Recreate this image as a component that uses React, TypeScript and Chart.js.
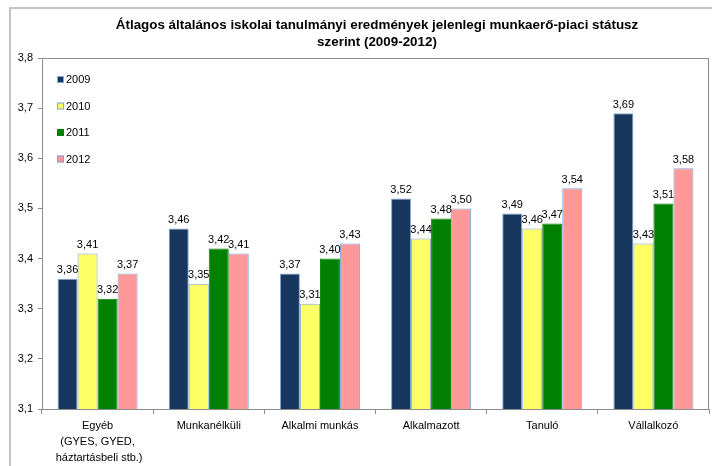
import React, { useEffect, useRef } from "react";
import { Chart, registerables } from "chart.js";

Chart.register(...registerables);

const categories: (string | string[])[] = [
  ["Egyéb", "(GYES, GYED,", " háztartásbeli stb.)"],
  "Munkanélküli",
  "Alkalmi munkás",
  "Alkalmazott",
  "Tanuló",
  "Vállalkozó",
];
const seriesNames = ["2009", "2010", "2011", "2012"];
const values2009 = [3.36, 3.46, 3.37, 3.52, 3.49, 3.69];
const values2010 = [3.41, 3.35, 3.31, 3.44, 3.46, 3.43];
const values2011 = [3.32, 3.42, 3.4, 3.48, 3.47, 3.51];
const values2012 = [3.37, 3.41, 3.43, 3.5, 3.54, 3.58];
const titleLines = [
  "Átlagos általános iskolai tanulmányi eredmények jelenlegi munkaerő-piaci státusz",
  "szerint (2009-2012)",
];
const yMin = 3.1;
const yMax = 3.8;
const yStep = 0.1;

const FONT = "'Liberation Sans', Arial, sans-serif";
const fillColors = ["#17375E", "#FFFF66", "#008000", "#FF9999"];
const edgeColors = ["#7FA7D9", "#7FA7D9", "#008000", "#7FA7D9"];

const fmt = (v: number, d: number) => v.toFixed(d).replace(".", ",");

const decorPlugin = {
  id: "decor",
  beforeDraw(chart: any) {
    const ctx = chart.ctx;
    ctx.save();
    ctx.fillStyle = "#ffffff";
    ctx.fillRect(0, 0, chart.width, chart.height);
    // outer frame
    ctx.strokeStyle = "#C4C4C4";
    ctx.lineWidth = 2;
    ctx.strokeRect(10, 8, chart.width + 20, chart.height + 20);
    // title
    ctx.fillStyle = "#000";
    ctx.font = `bold 13.4px ${FONT}`;
    ctx.textAlign = "center";
    ctx.textBaseline = "middle";
    titleLines.forEach((t, i) => ctx.fillText(t, 377, 25 + i * 17.5));
    ctx.restore();
  },
  afterDraw(chart: any) {
    const ctx = chart.ctx;
    const a = chart.chartArea;
    ctx.save();
    ctx.strokeStyle = "#8C8C8C";
    ctx.lineWidth = 1;
    ctx.strokeRect(Math.round(a.left) + 0.5, Math.round(a.top) + 0.5, Math.round(a.right - a.left) - 1, Math.round(a.bottom - a.top));
    // data labels
    ctx.fillStyle = "#000";
    ctx.font = `11px ${FONT}`;
    ctx.textAlign = "center";
    ctx.textBaseline = "bottom";
    chart.data.datasets.forEach((ds: any, di: number) => {
      const meta = chart.getDatasetMeta(di);
      meta.data.forEach((bar: any, i: number) => {
        ctx.fillText(fmt(ds.data[i], 2), bar.x, bar.y - 3);
      });
    });
    // legend
    ctx.textAlign = "left";
    ctx.textBaseline = "middle";
    seriesNames.forEach((name, i) => {
      const y = 80 + i * 26.5;
      ctx.fillStyle = fillColors[i];
      ctx.fillRect(57, y - 4, 7, 7);
      if (i !== 2) {
        ctx.strokeStyle = edgeColors[i];
        ctx.strokeRect(57.5, y - 3.5, 6, 6);
      }
      ctx.fillStyle = "#000";
      ctx.fillText(name, 66, y);
    });
    ctx.restore();
  },
};

export default function App() {
  const ref = useRef<HTMLCanvasElement>(null);
  useEffect(() => {
    if (!ref.current) return;
    const series = [values2009, values2010, values2011, values2012];
    const chart = new Chart(ref.current, {
      type: "bar",
      data: {
        labels: categories,
        datasets: series.map((vals, i) => ({
          label: seriesNames[i],
          data: vals,
          backgroundColor: fillColors[i],
          borderColor: edgeColors[i],
          borderWidth: 1,
          categoryPercentage: 0.72,
          barPercentage: 1,
        })),
      },
      options: {
        responsive: false,
        animation: false,
        devicePixelRatio: 1,
        layout: { padding: { top: 58, right: 3, left: 0, bottom: 0 } },
        plugins: {
          legend: { display: false },
          title: { display: false },
          tooltip: { enabled: false },
        },
        scales: {
          x: {
            grid: {
              drawOnChartArea: false,
              drawTicks: true,
              tickLength: 5,
              color: "#8C8C8C",
              offset: true,
            },
            border: { display: true, color: "#8C8C8C" },
            ticks: {
              color: "#000",
              font: { family: FONT, size: 11, lineHeight: 1.45 },
              padding: 4,
              maxRotation: 0,
              autoSkip: false,
            },
            afterFit(scale: any) {
              scale.height = 57;
            },
          },
          y: {
            min: yMin,
            max: yMax,
            grid: {
              drawOnChartArea: false,
              drawTicks: true,
              tickLength: 4,
              color: "#8C8C8C",
            },
            border: { display: true, color: "#8C8C8C" },
            ticks: {
              stepSize: yStep,
              color: "#000",
              font: { family: FONT, size: 11 },
              padding: 5,
              callback: (v: any) => fmt(Number(v), 1),
            },
            afterFit(scale: any) {
              scale.width = 42;
            },
          },
        },
      },
      plugins: [decorPlugin],
    });
    return () => chart.destroy();
  }, []);
  return (
    <div style={{ position: "fixed", left: 0, top: 0, width: 712, height: 466, background: "#fff" }}>
      <canvas ref={ref} width={712} height={466} style={{ display: "block", width: 712, height: 466 }} />
    </div>
  );
}
